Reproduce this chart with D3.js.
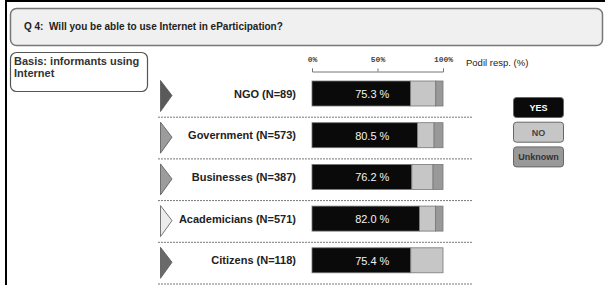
<!DOCTYPE html>
<html>
<head>
<meta charset="utf-8">
<script src="https://cdn.jsdelivr.net/npm/d3@7"></script>
<style>
  body { margin: 0; background: #fff; }
  svg { display: block; font-family: "Liberation Sans", Arial, sans-serif; }
</style>
</head>
<body>
<svg id="chart" width="605" height="285"></svg>
<script>
// survey answers per group (percent of respondents)
var categories = ["NGO (N=89)", "Government (N=573)", "Businesses (N=387)", "Academicians (N=571)", "Citizens (N=118)"];
var yes = [75.3, 80.5, 76.2, 82.0, 75.4];
var no = [19.2, 12.7, 16.2, 12.3, 24.6];
var unknown = [5.5, 6.8, 7.6, 5.7, 0];
var ticks = [0, 50, 100];
var legendLabels = ["YES", "NO", "Unknown"];

var arrowFill = ["#5a5a5a", "#9c9c9c", "#9c9c9c", "#ececec", "#6a6a6a"];
var segFill = ["#0a0a0a", "#c6c6c6", "#999999"];
var legendText = ["#ffffff", "#444444", "#333333"];

var svg = d3.select("#chart");

// outer frame
svg.append("rect").attr("x", 5).attr("y", 0).attr("width", 2).attr("height", 285).attr("fill", "#000");
svg.append("rect").attr("x", 5).attr("y", 0).attr("width", 600).attr("height", 2).attr("fill", "#000");

// title box
svg.append("rect")
    .attr("x", 10.5).attr("y", 8.5).attr("width", 592).attr("height", 37)
    .attr("rx", 6)
    .attr("fill", "#f0f0f0").attr("stroke", "#777").attr("stroke-width", 1.5);
svg.append("text")
    .attr("x", 24).attr("y", 30)
    .attr("font-size", 10).attr("font-weight", "bold").attr("fill", "#222")
    .attr("xml:space", "preserve")
    .text("Q 4:  Will you be able to use Internet in eParticipation?");

// basis box
svg.append("rect")
    .attr("x", 10.5).attr("y", 52.5).attr("width", 137).attr("height", 39)
    .attr("rx", 6)
    .attr("fill", "#fff").attr("stroke", "#555").attr("stroke-width", 1.2);
var basis = svg.append("text")
    .attr("font-size", 11).attr("font-weight", "bold").attr("fill", "#333");
basis.append("tspan").attr("x", 14).attr("y", 65).text("Basis: informants using");
basis.append("tspan").attr("x", 14).attr("y", 77).text("Internet");

var x = d3.scaleLinear().domain([0, 100]).range([312, 443]);
var y = d3.scaleBand().domain(categories).range([75, 283.5]);

// axis
var xAxis = d3.axisTop(x).tickValues(ticks).tickSize(3).tickFormat(function(d) { return d + "%"; });
var ax = svg.append("g")
    .attr("transform", "translate(0,71.5)")
    .call(xAxis);
ax.selectAll("path, line").attr("stroke", "#777");
ax.selectAll("text")
    .attr("font-family", "'Liberation Mono', monospace")
    .attr("font-size", 8).attr("font-weight", "bold").attr("fill", "#444")
    .attr("dy", "-0.5em");

svg.append("text")
    .attr("x", 466).attr("y", 66)
    .attr("font-size", 9.5).attr("fill", "#222")
    .text("Podil resp. (%)");

var rows = svg.selectAll("g.row")
    .data(categories)
    .enter().append("g")
    .attr("class", "row")
    .attr("transform", function(d) { return "translate(0," + y(d) + ")"; });

// dashed separators
rows.append("line")
    .attr("x1", 158).attr("x2", 473)
    .attr("y1", y.bandwidth() + 0.5).attr("y2", y.bandwidth() + 0.5)
    .attr("stroke", "#777").attr("stroke-dasharray", "2,1");

// arrows
rows.append("path")
    .attr("d", "M160.5,5.5 L172,20.5 L160.5,36.5 Z")
    .attr("fill", function(d, i) { return arrowFill[i]; })
    .attr("stroke", "#555").attr("stroke-width", 0.8);

rows.append("text")
    .attr("x", 296).attr("y", 22.5)
    .attr("text-anchor", "end")
    .attr("font-size", 11).attr("font-weight", "bold").attr("fill", "#222")
    .text(function(d) { return d; });

// stacked bars
var stack = categories.map(function(c, i) {
    var vals = [yes[i], no[i], unknown[i]];
    var acc = 0;
    return vals.map(function(v, k) {
        var s = { x0: acc, x1: acc + v, k: k };
        acc += v;
        return s;
    });
});

rows.selectAll("rect.seg")
    .data(function(d, i) { return stack[i].filter(function(s) { return s.x1 > s.x0; }); })
    .enter().append("rect")
    .attr("class", "seg")
    .attr("x", function(s) { return x(s.x0); })
    .attr("y", 6)
    .attr("width", function(s) { return x(s.x1) - x(s.x0); })
    .attr("height", 25)
    .attr("fill", function(s) { return segFill[s.k]; })
    .attr("stroke", "#777").attr("stroke-width", 0.8);

rows.append("text")
    .attr("x", x(46)).attr("y", 23)
    .attr("text-anchor", "middle")
    .attr("font-size", 11).attr("fill", "#f2f2f2")
    .text(function(d, i) { return yes[i].toFixed(1) + " %"; });

// legend
var leg = svg.selectAll("g.leg")
    .data(legendLabels)
    .enter().append("g")
    .attr("class", "leg")
    .attr("transform", function(d, i) { return "translate(513.5," + (97.5 + i * 24.7) + ")"; });
leg.append("rect")
    .attr("width", 50).attr("height", 20).attr("rx", 3)
    .attr("fill", function(d, i) { return segFill[i]; })
    .attr("stroke", "#666").attr("stroke-width", 1);
leg.append("text")
    .attr("x", 25).attr("y", 13.5)
    .attr("text-anchor", "middle")
    .attr("font-size", 9).attr("font-weight", "bold")
    .attr("fill", function(d, i) { return legendText[i]; })
    .text(function(d) { return d; });
</script>
</body>
</html>
